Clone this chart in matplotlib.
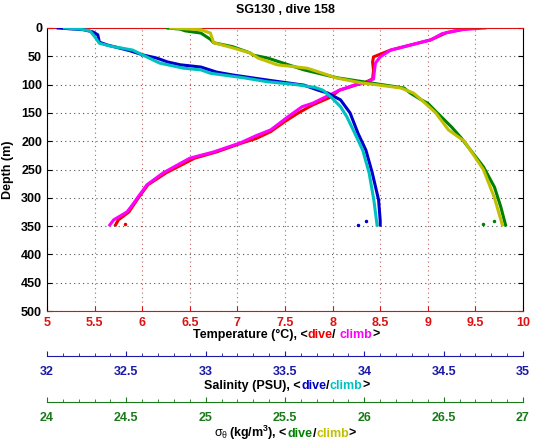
import numpy as np
import matplotlib
matplotlib.use("Agg")
from matplotlib import pyplot as plt

plt.rcParams['font.family'] = ['Liberation Sans', 'DejaVu Sans']
plt.rcParams['font.weight'] = 'bold'
plt.rcParams['mathtext.default'] = 'regular'

# temperature (degC) vs depth (m)
temp_dive_depth = [0, 8, 21, 30, 39, 51, 60, 75, 90, 97, 100, 110, 122, 136, 150, 165, 183,
                   195, 203, 219, 230, 256, 277, 300, 325, 339, 348]
temp_dive = [9.45, 9.2, 9.03, 8.82, 8.61, 8.43, 8.42, 8.43, 8.42, 8.33, 8.26, 8.07, 7.98, 7.79,
             7.64, 7.5, 7.35, 7.2, 7.05, 6.78, 6.55, 6.25, 6.06, 5.96, 5.86, 5.75, 5.72]
temp_climb_depth = [0, 3, 10, 21, 30, 39, 51, 62, 75, 90, 97, 100, 110, 133, 139, 157, 180, 190,
                    203, 219, 230, 256, 277, 300, 312, 325, 339, 348]
temp_climb = [9.6, 9.35, 9.15, 9.03, 8.82, 8.61, 8.5, 8.45, 8.44, 8.43, 8.35, 8.24, 8.07, 7.79,
              7.68, 7.53, 7.35, 7.2, 7.03, 6.75, 6.5, 6.22, 6.05, 5.95, 5.9, 5.84, 5.7, 5.66]

# salinity (PSU) vs depth (m)
sal_dive_depth = [0, 3, 7, 12, 25, 30, 40, 48, 53, 60, 65, 69, 78, 83, 92, 101, 110, 115, 127,
                  150, 186, 216, 256, 304, 340, 348]
sal_dive = [32.07, 32.23, 32.29, 32.32, 32.33, 32.38, 32.52, 32.61, 32.69, 32.76, 32.84, 32.97,
            33.07, 33.17, 33.39, 33.62, 33.71, 33.77, 33.85, 33.91, 33.96, 34.01, 34.05, 34.09,
            34.10, 34.10]
sal_climb_depth = [0, 2, 5, 15, 27, 32, 39, 50, 62, 71, 74, 80, 88, 95, 100, 105, 110, 122, 139,
                   157, 186, 216, 256, 304, 348]
sal_climb = [32.11, 32.21, 32.27, 32.30, 32.33, 32.40, 32.54, 32.62, 32.71, 32.86, 32.97, 33.03,
             33.24, 33.39, 33.57, 33.69, 33.74, 33.79, 33.85, 33.89, 33.94, 33.99, 34.03, 34.06,
             34.08]

# potential density sigma_theta (kg/m3) vs depth (m)
sig_dive_depth = [0, 2, 5, 9, 20, 26, 33, 44, 48, 53, 74, 88, 97, 106, 115, 127, 133, 150, 175,
                  194, 216, 245, 281, 316, 348]
sig_dive = [24.76, 24.84, 24.87, 24.97, 25.03, 25.05, 25.17, 25.28, 25.30, 25.39, 25.62, 25.83,
            26.04, 26.25, 26.29, 26.36, 26.40, 26.46, 26.55, 26.61, 26.67, 26.75, 26.82, 26.86,
            26.89]
sig_climb_depth = [0, 3, 9, 26, 35, 44, 53, 65, 71, 83, 88, 97, 100, 106, 115, 127, 150, 180,
                   200, 250, 300, 348]
sig_climb = [24.78, 24.97, 25.03, 25.05, 25.17, 25.28, 25.33, 25.45, 25.64, 25.77, 25.82, 25.98,
             26.07, 26.23, 26.31, 26.36, 26.45, 26.53, 26.63, 26.75, 26.82, 26.87]

# stray dive samples near the bottom of the dive
stray_temp, stray_temp_depth = [5.82], [347]
stray_sal, stray_sal_depth = [33.96, 34.01], [348, 341]
stray_sig, stray_sig_depth = [26.75, 26.82], [347, 341]

W, H = 535, 442
TEMP_C, SAL_C, SIG_C = '#dd1111', '#1a1aa8', '#1a7a1a'

fig = plt.figure(figsize=(W / 100, H / 100), dpi=100)
ax = fig.add_axes([47 / W, 1 - 311 / H, 476 / W, 283 / H])

# temperature on the main axes
ax.plot(temp_dive, temp_dive_depth, color='#ee0000', lw=2.2)
ax.plot(stray_temp, stray_temp_depth, '.', color='#ee0000', ms=3)
ax.plot(temp_climb, temp_climb_depth, color='#ff00ff', lw=2.2)
ax.set_xlim(5, 10)
ax.set_ylim(500, 0)
ax.set_xticks(np.arange(5, 10.01, 0.5))
ax.set_xticklabels(['5', '5.5', '6', '6.5', '7', '7.5', '8', '8.5', '9', '9.5', '10'])
ax.set_yticks(np.arange(0, 501, 50))
ax.tick_params(axis='x', colors=TEMP_C, direction='in', length=3.5, top=True, labelsize=9, pad=4)
ax.tick_params(axis='y', colors='black', direction='in', length=3.5, right=True, labelsize=9)
ax.spines['bottom'].set_color(TEMP_C)
ax.spines['top'].set_color(TEMP_C)
ax.xaxis.grid(True, color='#c06060', linestyle=(0, (1, 3)), lw=0.8)
ax.yaxis.grid(True, color='#555555', linestyle=(0, (1, 3)), lw=0.8)
ax.set_ylabel('Depth (m)', fontsize=9, fontweight='bold', labelpad=5)
ax.set_title('SG130 , dive 158', fontsize=9, fontweight='bold', pad=11)


def extra_axis(lo, hi, color, offset_pt, pad):
    a = ax.twiny()
    a.set_xlim(lo, hi)
    a.set_ylim(500, 0)
    for s in a.spines.values():
        s.set_visible(False)
    a.spines['bottom'].set_visible(True)
    a.spines['bottom'].set_color(color)
    a.spines['bottom'].set_position(('outward', offset_pt))
    a.xaxis.set_ticks_position('bottom')
    a.set_xticks(np.arange(lo, hi + 0.01, 0.5))
    a.set_xticks(np.arange(lo, hi + 0.01, 0.1), minor=True)
    a.set_xticklabels([f'{v:g}' for v in np.arange(lo, hi + 0.01, 0.5)])
    a.tick_params(axis='x', which='major', colors=color, direction='in', length=3.5,
                  labelsize=9, pad=pad)
    a.tick_params(axis='x', which='minor', colors=color, direction='in', length=2)
    return a


ax_sal = extra_axis(32, 35, SAL_C, 32.5, 7)
ax_sal.plot(sal_dive, sal_dive_depth, color='#0000cc', lw=2.2)
ax_sal.plot(stray_sal, stray_sal_depth, '.', color='#0000cc', ms=3)
ax_sal.plot(sal_climb, sal_climb_depth, color='#00c0c0', lw=2.2)

ax_sig = extra_axis(24, 27, SIG_C, 65.5, 7)
ax_sig.plot(sig_dive, sig_dive_depth, color='#008000', lw=2.2)
ax_sig.plot(stray_sig, stray_sig_depth, '.', color='#008000', ms=3)
ax_sig.plot(sig_climb, sig_climb_depth, color='#c0c000', lw=2.2)


def colored_label(parts, cx, base_y):
    texts = [fig.text(0, 1 - base_y / H, s, color=c, fontsize=9, fontweight=w,
                      va='baseline', ha='left') for s, c, w in parts]
    fig.canvas.draw()
    r = fig.canvas.get_renderer()
    widths = [t.get_window_extent(r).width for t in texts]
    x = cx - sum(widths) / 2
    for t, w in zip(texts, widths):
        t.set_x(x / W)
        x += w


colored_label([('Temperature (°C), <', 'black', 'bold'), ('dive', '#ee0000', 'bold'),
               ('/ ', 'black', 'bold'), ('climb', '#ff00ff', 'bold'), ('>', 'black', 'bold')],
              286, 338)
colored_label([('Salinity (PSU), <', 'black', 'bold'), ('dive', '#0000cc', 'bold'),
               ('/', 'black', 'bold'), ('climb', '#00c0c0', 'bold'), ('>', 'black', 'bold')],
              287, 389)
colored_label([(r'$\sigma_\theta$ ', 'black', 'normal'), (r'(kg/m$^3$), <', 'black', 'bold'),
               ('dive', '#008000', 'bold'), ('/', 'black', 'bold'),
               ('climb', '#c0c000', 'bold'), ('>', 'black', 'bold')], 285, 437)

fig.savefig('out.png', dpi=100)
